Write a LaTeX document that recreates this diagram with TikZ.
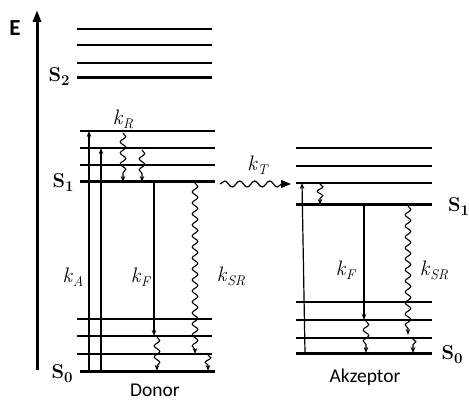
\documentclass[tikz,border=0pt]{standalone}
\usepackage{fontspec}
\setsansfont{Carlito}
\usepackage{tikz}
\usetikzlibrary{arrows.meta, decorations.pathmorphing}

\newcommand{\ratek}[1]{\textit{k}\raisebox{-0.45ex}{\fontsize{14}{14}\selectfont\textit{#1}}}
\newcommand{\statelev}[1]{S\raisebox{-0.45ex}{\fontsize{15}{15}\selectfont #1}}

\tikzset{
  level/.style={line width=1.2pt},
  ground/.style={line width=3pt},
  radarrow/.style={line width=1.2pt, -{Stealth[length=6pt, width=4.5pt]}},
  wavyarrow/.style={line width=1.1pt, -{Stealth[length=6pt, width=4.5pt]},
    decorate, decoration={snake, amplitude=2.8pt, segment length=11pt, post length=4pt}},
  ratelabel/.style={font=\fontsize{21}{22}\selectfont},
  statelabel/.style={font=\fontsize{20}{22}\selectfont\bfseries},
  namelabel/.style={font=\fontsize{19.5}{22}\selectfont\sffamily},
  axislabel/.style={font=\fontsize{23}{24}\selectfont\sffamily\bfseries}
}

\begin{document}
\begin{tikzpicture}[x=1pt, y=-1pt]
\useasboundingbox (0,0) rectangle (469,401);
% Energy axis
\coordinate (ebot) at (37,370);
\coordinate (etop) at (37,10);
\draw[line width=3pt, -{Triangle[length=12pt, width=8pt]}] (ebot) -- (etop);
\node[axislabel] (elabel) at (15,28) {E};
% Donor levels
\foreach \y in {29,45,63} {
  \draw[level] (77,\y) -- (212,\y);
}
\draw[ground] (77,78) -- (212,78);
\foreach \y in {131,148,165} {
  \draw[level] (80,\y) -- (215,\y);
}
\draw[ground] (80,182) -- (215,182);
\foreach \y in {319,336,354} {
  \draw[level] (77,\y) -- (212,\y);
}
\draw[ground] (80,371) -- (215,371);
\node[statelabel] (dstwo) at (59,77) {\statelev{2}};
\node[statelabel] (dsone) at (63,183) {\statelev{1}};
\node[statelabel] (dszero) at (62,374) {\statelev{0}};
\node[namelabel] (donor) at (155,390) {Donor};
% Donor transitions
\coordinate (dabsa) at (89,371);  \coordinate (dabsb) at (89,131);
\coordinate (dabsc) at (101,371); \coordinate (dabsd) at (101,148);
\draw[radarrow] (dabsa) -- (dabsb);
\draw[radarrow] (dabsc) -- (dabsd);
\coordinate (drela) at (123,133); \coordinate (drelb) at (123,182);
\coordinate (drelc) at (142,150); \coordinate (dreld) at (142,182);
\draw[wavyarrow] (drela) -- (drelb);
\draw[wavyarrow] (drelc) -- (dreld);
\coordinate (dfla) at (154,183); \coordinate (dflb) at (154,336);
\coordinate (dflc) at (157,337); \coordinate (dfld) at (157,371);
\draw[radarrow] (dfla) -- (dflb);
\draw[wavyarrow] (dflc) -- (dfld);
\coordinate (dsra) at (195,183); \coordinate (dsrb) at (195,354);
\coordinate (dsrc) at (208,355); \coordinate (dsrd) at (208,371);
\draw[wavyarrow] (dsra) -- (dsrb);
\draw[wavyarrow, decoration={segment length=9pt}] (dsrc) -- (dsrd);
\node[ratelabel] (kr) at (123,119) {\ratek{R}};
\node[ratelabel] (ka) at (73,277) {\ratek{A}};
\node[ratelabel] (kfd) at (141,277) {\ratek{F}};
\node[ratelabel] (ksrd) at (231,276) {\ratek{SR}};
% Energy transfer
\coordinate (ta) at (220,184);
\coordinate (tb) at (291,184);
\draw[line width=1.2pt, -{Triangle[length=10pt, width=8pt]}, decorate,
  decoration={snake, amplitude=3pt, segment length=15pt, post length=9pt}] (ta) -- (tb);
\node[ratelabel] (kt) at (258,165) {\ratek{T}};
% Acceptor levels
\foreach \y in {148,166,183} {
  \draw[level] (296,\y) -- (432,\y);
}
\draw[ground] (296,205) -- (432,205);
\foreach \y in {302,320,338} {
  \draw[level] (296,\y) -- (432,\y);
}
\draw[ground] (296,353) -- (432,353);
\node[statelabel, anchor=west, inner sep=0pt] (asone) at (448,207) {\statelev{1}};
\node[statelabel] (aszero) at (452,355) {\statelev{0}};
\node[namelabel] (akzeptor) at (365,377) {Akzeptor};
% Acceptor transitions
\coordinate (aabsa) at (305,353); \coordinate (aabsb) at (302,183);
\draw[radarrow] (aabsa) -- (aabsb);
\coordinate (arela) at (320,184); \coordinate (arelb) at (320,205);
\draw[wavyarrow, decoration={segment length=9pt}] (arela) -- (arelb);
\coordinate (afla) at (364,206); \coordinate (aflb) at (364,320);
\coordinate (aflc) at (366,321); \coordinate (afld) at (366,353);
\draw[radarrow] (afla) -- (aflb);
\draw[wavyarrow] (aflc) -- (afld);
\coordinate (asra) at (408,206); \coordinate (asrb) at (408,335);
\coordinate (asrc) at (413,339); \coordinate (asrd) at (413,353);
\draw[wavyarrow] (asra) -- (asrb);
\draw[wavyarrow, decoration={segment length=9pt}] (asrc) -- (asrd);
\node[ratelabel] (kfa) at (346,270) {\ratek{F}};
\node[ratelabel] (ksra) at (434,270) {\ratek{SR}};
\end{tikzpicture}
\end{document}
